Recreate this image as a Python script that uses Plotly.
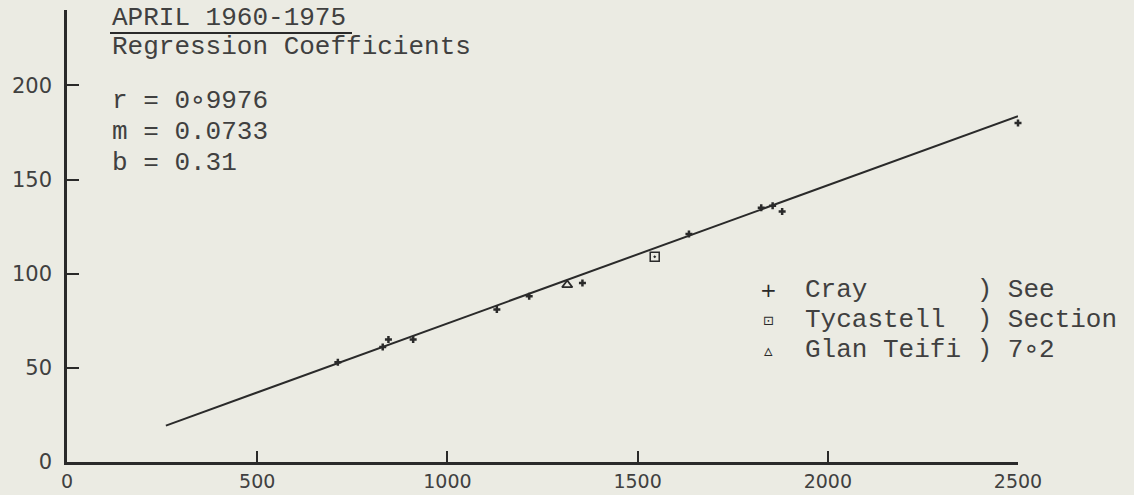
import plotly.graph_objects as go

# ---- data ----
cray_x = [712, 830, 845, 910, 1130, 1215, 1355, 1635, 1825, 1855, 1880, 2500]
cray_y = [53, 61, 65, 65, 81, 88, 95, 121, 135, 136, 133, 180]
tycastell_x = [1545]
tycastell_y = [109]
glan_x = [1315]
glan_y = [94]
line_x = [260, 2500]
line_y = [19.3, 183.6]

x_ticks = [0, 500, 1000, 1500, 2000, 2500]
y_ticks = [0, 50, 100, 150, 200]

title_lines = ["APRIL 1960-1975", "Regression Coefficients"]
coef_lines = ["r = 0\u22189976", "m = 0.0733", "b = 0.31"]
legend_symbols = ["+", "\u22A1", "\u25B5"]
legend_lines = ["Cray       ) See", "Tycastell  ) Section", "Glan Teifi ) 7\u22182"]

INK = "#2a2a2a"
TXT = "#404040"
BG = "#ebebe3"
MONO = "Liberation Mono, Courier New, monospace"
SANS = "DejaVu Sans, Verdana, sans-serif"

fig = go.Figure()
fig.add_trace(go.Scatter(x=line_x, y=line_y, mode="lines",
                         line=dict(color=INK, width=2), hoverinfo="skip",
                         showlegend=False))
fig.add_trace(go.Scatter(x=cray_x, y=cray_y, mode="markers", name="Cray",
                         marker=dict(symbol="cross-thin", size=5,
                                     line=dict(color=INK, width=2.5)),
                         showlegend=False, cliponaxis=False))
fig.add_trace(go.Scatter(x=tycastell_x, y=tycastell_y, mode="markers", name="Tycastell",
                         marker=dict(symbol="square-open-dot", size=9, color=INK,
                                     line=dict(color=INK, width=1.5)),
                         showlegend=False))
fig.add_trace(go.Scatter(x=glan_x, y=glan_y, mode="markers", name="Glan Teifi",
                         marker=dict(symbol="triangle-up-open", size=9, color=INK,
                                     line=dict(color=INK, width=1.8)),
                         showlegend=False))

L, R, T, B = 67, 116, 10, 33
W, H = 1134, 495
PW, PH = W - L - R, H - T - B


def px(xp):
    return (xp - L) / PW


def py(yp):
    return (H - B - yp) / PH


ann = []
ann.append(dict(text=title_lines[0], x=px(110), y=py(18)))
ann.append(dict(text=title_lines[1], x=px(110), y=py(47)))
for i, t in enumerate(coef_lines):
    ann.append(dict(text=t, x=px(110), y=py(101 + 31 * i)))
for a in ann:
    a.update(xref="paper", yref="paper", xanchor="left", yanchor="middle",
             showarrow=False, font=dict(family=MONO, size=26, color=TXT))

for i, (s, t) in enumerate(zip(legend_symbols, legend_lines)):
    yy = py(290 + 30 * i)
    ann.append(dict(text=t, x=px(803), y=yy, xref="paper", yref="paper",
                    xanchor="left", yanchor="middle", showarrow=False,
                    font=dict(family=MONO, size=26, color=TXT)))
    ann.append(dict(text=s, x=px(768), y=yy, xref="paper", yref="paper",
                    xanchor="center", yanchor="middle", showarrow=False,
                    font=dict(family="DejaVu Sans", size=[20, 13, 17][i],
                              color=INK)))

fig.update_layout(
    width=W, height=H,
    margin=dict(l=L, r=R, t=T, b=B, pad=0),
    paper_bgcolor=BG, plot_bgcolor=BG,
    annotations=ann,
    shapes=[dict(type="line", xref="paper", yref="paper",
                 x0=px(110), x1=px(352), y0=py(33), y1=py(33),
                 line=dict(color=INK, width=2))],
    xaxis=dict(range=[0, 2500], tickvals=x_ticks, ticks="inside", ticklen=11,
               tickwidth=2, tickcolor=INK, showline=True, linecolor=INK,
               linewidth=2.5, showgrid=False, zeroline=False, automargin=False,
               tickfont=dict(family=SANS, size=19, color=TXT),
               ticklabelstandoff=0),
    yaxis=dict(range=[0, 240], tickvals=y_ticks, ticks="inside", ticklen=12,
               tickwidth=2, tickcolor=INK, showline=True, linecolor=INK,
               linewidth=2.5, showgrid=False, zeroline=False, automargin=False,
               tickfont=dict(family=SANS, size=21, color=TXT),
               ticklabelstandoff=8),
)

fig.write_html(
    "out.html",
    config={"displayModeBar": False},
    post_script="document.body.style.margin='0';"
                "document.body.style.overflow='hidden';"
                "document.body.style.background='" + BG + "';",
)
